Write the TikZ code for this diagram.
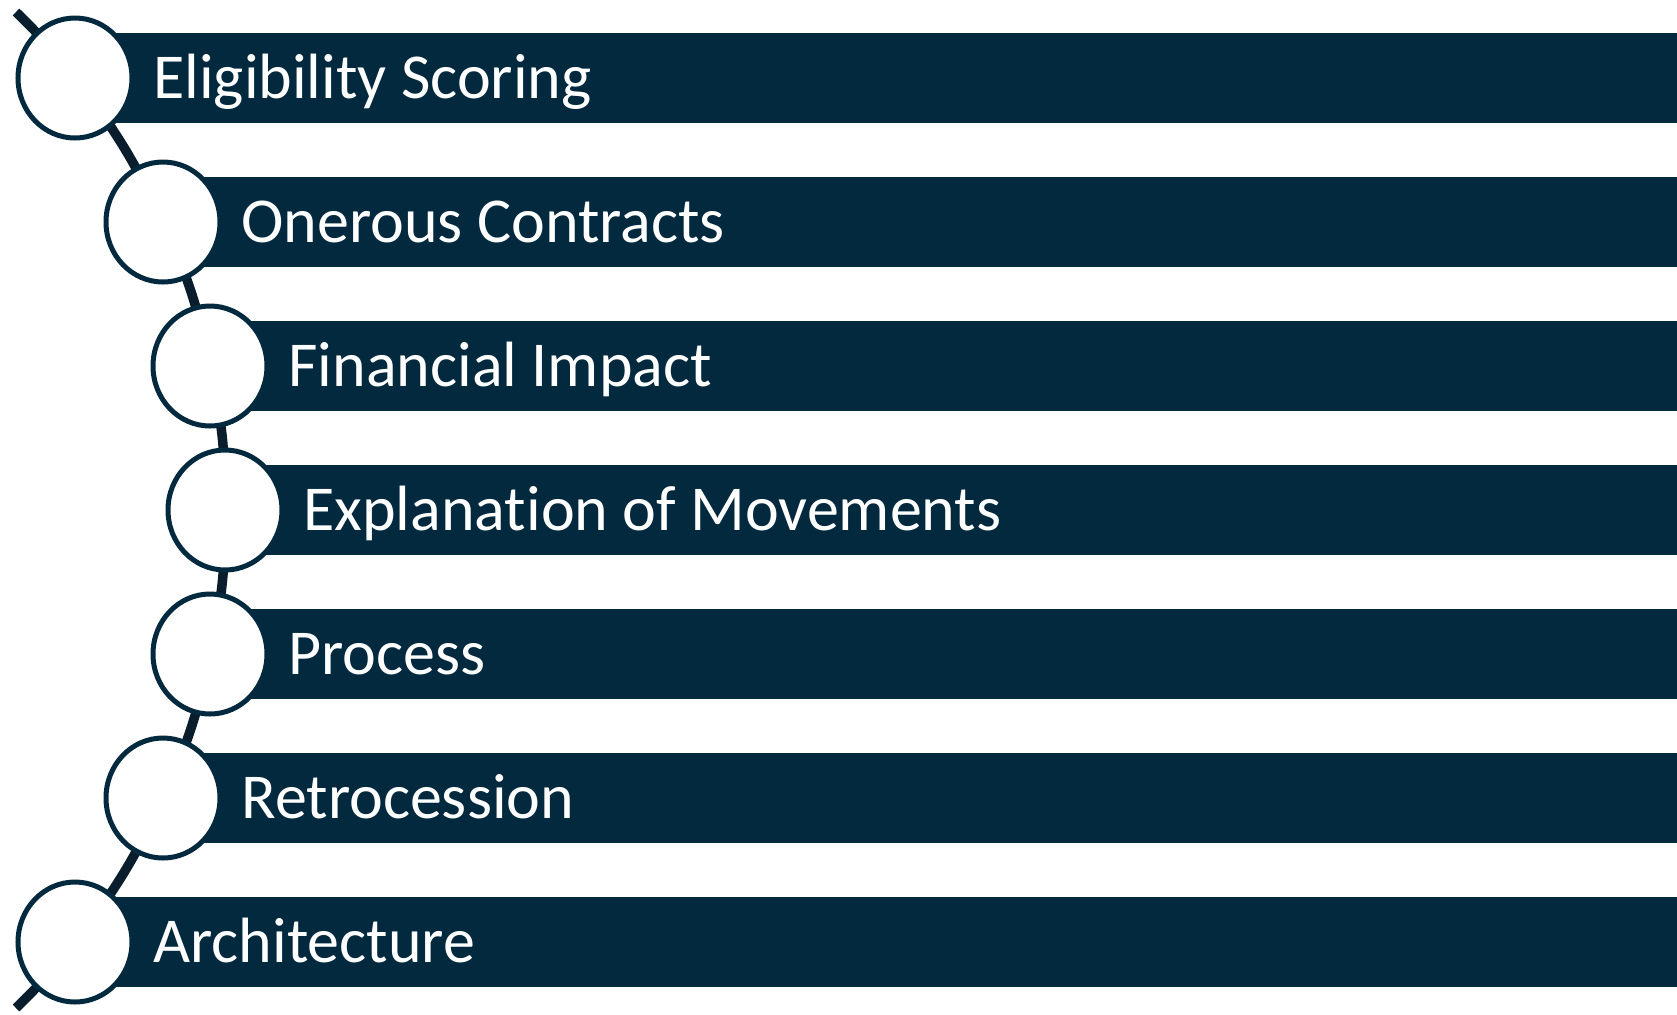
\documentclass[tikz,border=0pt]{standalone}
\usepackage{fontspec}
\setmainfont[Ligatures=NoCommon]{Carlito}
\usepackage{xcolor}
\usepackage{tikz}
\usetikzlibrary{shapes.geometric,calc}

\definecolor{barnavy}{HTML}{03293F}
\definecolor{arcnavy}{HTML}{0A1D2C}

\begin{document}
\begin{tikzpicture}[x=0.5pt,y=-0.5pt,
  link/.style={draw=arcnavy, line width=4.75pt},
  stepbar/.style={fill=barnavy},
  ring/.style={ellipse, draw=barnavy, fill=white, line width=2.5pt,
    minimum width=57pt, minimum height=60pt, inner sep=0pt},
  caption/.style={anchor=base west, inner sep=0pt, text=white,
    font=\fontsize{32}{32}\selectfont}]
\useasboundingbox (0,0) rectangle (1677,1014);
% points on the bend
\coordinate (top) at (16,12);
\foreach \x/\y [count=\i] in {75/78,163/222,210/366,225/510,210/654,163/798,75/942}
  \coordinate (p\i) at (\x,\y);
\coordinate (bot) at (16,1008);
\coordinate (right) at (1677,0);
% the bend behind the rings
\draw[link] (top) to[bend left=4] (p1);
\foreach \i/\j in {1/2,2/3,3/4,4/5,5/6,6/7}
  \draw[link] (p\i) to[bend left=6.5] (p\j);
\draw[link] (p7) to[bend left=4] (bot);
% bars, rings and captions
\foreach \txt [count=\i] in {Eligibility Scoring,Onerous Contracts,Financial Impact,
    Explanation of Movements,Process,Retrocession,Architecture} {
  \fill[stepbar] ($(p\i)+(0,-45)$) rectangle ($(p\i -| right)+(0,45)$);
  \node[ring] (ring\i) at (p\i) {};
  \node[caption] (txt\i) at ($(p\i)+(78,20)$) {\txt};
}
\end{tikzpicture}
\end{document}
